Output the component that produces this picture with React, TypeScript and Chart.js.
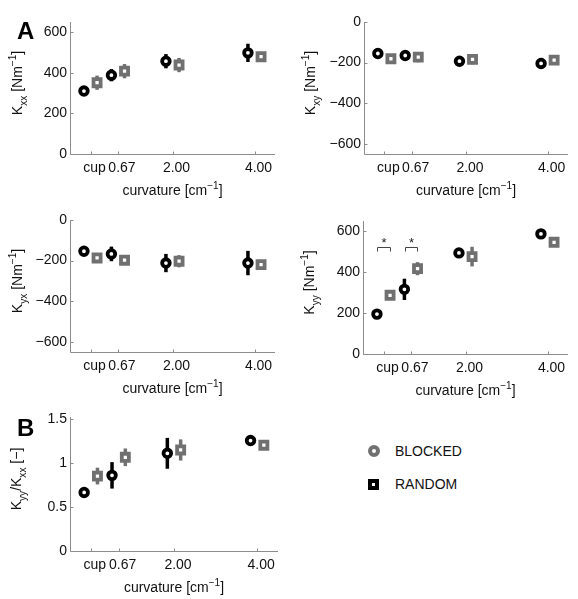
import React, { useEffect, useRef } from 'react';
import { Chart, registerables } from 'chart.js';

Chart.register(...registerables);

// ---------- data ----------
const tickLabels = ['cup', '0.67', '2.00', '4.00'];
const curvature = [0, 0.67, 2, 4];
const groupOffset = 0.16;

const kxxBlack = [310, 388, 457, 498];
const kxxBlackErr = [12, 30, 35, 45];
const kxxGrey = [351, 408, 438, 479];
const kxxGreyErr = [35, 35, 35, 15];

const kxyBlack = [-155, -165, -193, -204];
const kxyBlackErr = [10, 15, 12, 27];
const kxyGrey = [-181, -173, -184, -188];
const kxyGreyErr = [12, 25, 25, 12];

const kyxBlack = [-154, -167, -212, -212];
const kyxBlackErr = [12, 36, 45, 60];
const kyxGrey = [-187, -198, -203, -220];
const kyxGreyErr = [10, 12, 30, 12];

const kyyBlack = [195, 316, 494, 587];
const kyyBlackErr = [10, 52, 10, 10];
const kyyGrey = [287, 417, 476, 546];
const kyyGreyErr = [12, 32, 48, 12];

const ratioBlack = [0.664, 0.858, 1.108, 1.253];
const ratioBlackErr = [0.02, 0.15, 0.175, 0.02];
const ratioGrey = [0.85, 1.063, 1.146, 1.2];
const ratioGreyErr = [0.095, 0.1, 0.12, 0.03];

const stiffTicksPos = [0, 200, 400, 600];
const stiffTicksNeg = [-600, -400, -200, 0];
const ratioTicks = [0, 0.5, 1, 1.5];

const sigCurvatures = [0, 0.67];
const sigLevel = 522;
const sigMark = '*';

const legendLabels = ['BLOCKED', 'RANDOM'];
const panelLetters = ['A', 'B'];

// ---------- styles ----------
const FONT = "'Liberation Sans', Arial, Helvetica, sans-serif";
const TEXT = '#111';
const AXIS = '#8c8c8c';
const BLACK = '#000';
const GREY = '#707070';
const FS = 14;

type Seg = { t: string; s?: 'sub' | 'sup' };

const xTitle: Seg[] = [{ t: 'curvature [cm' }, { t: '\u22121', s: 'sup' }, { t: ']' }];
const stiffTitle = (sub: string): Seg[] => [
  { t: 'K' }, { t: sub, s: 'sub' }, { t: ' [Nm' }, { t: '\u22121', s: 'sup' }, { t: ']' },
];
const ratioTitle: Seg[] = [
  { t: 'K' }, { t: 'yy', s: 'sub' }, { t: '/K' }, { t: 'xx', s: 'sub' }, { t: ' [\u2212]' },
];

function drawRich(ctx: CanvasRenderingContext2D, segs: Seg[], cx: number, cy: number, size: number, rot: number) {
  ctx.save();
  ctx.translate(cx, cy);
  if (rot) ctx.rotate(rot);
  const small = size * 0.72;
  const widths = segs.map((g) => {
    ctx.font = `${g.s ? small : size}px ${FONT}`;
    return ctx.measureText(g.t).width;
  });
  const total = widths.reduce((a, b) => a + b, 0);
  let x = -total / 2;
  ctx.textBaseline = 'alphabetic';
  ctx.textAlign = 'left';
  ctx.fillStyle = TEXT;
  const base = size * 0.36;
  segs.forEach((g, i) => {
    ctx.font = `${g.s ? small : size}px ${FONT}`;
    const dy = g.s === 'sub' ? size * 0.32 : g.s === 'sup' ? -size * 0.45 : 0;
    ctx.fillText(g.t, x, base + dy);
    x += widths[i];
  });
  ctx.restore();
}

const fmt = (v: number) => (v < 0 ? '\u2212' + String(Math.abs(v)) : String(v));

const decorPlugin = {
  id: 'decor',
  beforeDatasetsDraw(chart: any, _a: any, opts: any) {
    const ctx = chart.ctx as CanvasRenderingContext2D;
    const xs = chart.scales.x;
    const ys = chart.scales.y;
    ctx.save();
    ctx.lineCap = 'butt';
    (opts.errors || []).forEach((errs: number[], di: number) => {
      const ds = chart.data.datasets[di];
      ctx.strokeStyle = ds.pointBorderColor;
      ctx.lineWidth = 3.5;
      ds.data.forEach((pt: any, i: number) => {
        const e = errs[i];
        const px = xs.getPixelForValue(pt.x);
        ctx.beginPath();
        ctx.moveTo(px, ys.getPixelForValue(pt.y - e));
        ctx.lineTo(px, ys.getPixelForValue(pt.y + e));
        ctx.stroke();
      });
    });
    ctx.restore();
  },
  afterDraw(chart: any, _a: any, opts: any) {
    const ctx = chart.ctx as CanvasRenderingContext2D;
    const { left, right, top, bottom } = chart.chartArea;
    const xs = chart.scales.x;
    const ys = chart.scales.y;
    ctx.save();
    ctx.strokeStyle = AXIS;
    ctx.lineWidth = 1;
    const L = Math.round(left) + 0.5;
    const B = Math.round(bottom) + 0.5;
    ctx.beginPath();
    ctx.moveTo(L, Math.round(top));
    ctx.lineTo(L, B);
    ctx.lineTo(Math.round(right), B);
    ctx.stroke();
    ctx.beginPath();
    xs.ticks.forEach((t: any) => {
      const px = Math.round(xs.getPixelForValue(t.value)) + 0.5;
      ctx.moveTo(px, B);
      ctx.lineTo(px, B - 3);
    });
    ys.ticks.forEach((t: any) => {
      const py = Math.round(ys.getPixelForValue(t.value)) + 0.5;
      ctx.moveTo(L, py);
      ctx.lineTo(L + 3, py);
    });
    ctx.stroke();

    drawRich(ctx, xTitle, (left + right) / 2, bottom + 36, FS, 0);
    drawRich(ctx, opts.yTitle, opts.titleX, (top + bottom) / 2 - 5, FS, -Math.PI / 2);

    if (opts.sig) {
      ctx.strokeStyle = '#444';
      ctx.fillStyle = '#222';
      ctx.lineWidth = 1;
      ctx.font = `13px ${FONT}`;
      ctx.textAlign = 'center';
      ctx.textBaseline = 'middle';
      sigCurvatures.forEach((c) => {
        const x1 = Math.round(xs.getPixelForValue(c - groupOffset * 0.95)) + 0.5;
        const x2 = Math.round(xs.getPixelForValue(c + groupOffset * 0.95)) + 0.5;
        const y = Math.round(ys.getPixelForValue(sigLevel)) + 0.5;
        ctx.beginPath();
        ctx.moveTo(x1, y + 4);
        ctx.lineTo(x1, y);
        ctx.lineTo(x2, y);
        ctx.lineTo(x2, y + 4);
        ctx.stroke();
        ctx.fillText(sigMark, (x1 + x2) / 2, y - 4);
      });
    }
    ctx.restore();
  },
};

type PanelCfg = {
  left: number; top: number; width: number; height: number;
  area: [number, number, number, number];
  yMin: number; yMax: number; yTicks: number[];
  yFmt: (v: number) => string;
  black: number[]; blackErr: number[]; grey: number[]; greyErr: number[];
  yTitle: Seg[]; titleX: number; sig?: boolean;
};

const panels: PanelCfg[] = [
  { left: 0, top: 0, width: 290, height: 200, area: [70, 22, 275, 154], yMin: 0, yMax: 650, yTicks: stiffTicksPos, yFmt: fmt,
    black: kxxBlack, blackErr: kxxBlackErr, grey: kxxGrey, greyErr: kxxGreyErr, yTitle: stiffTitle('xx'), titleX: 17 },
  { left: 290, top: 0, width: 288, height: 200, area: [74, 22, 278, 154], yMin: -650, yMax: 0, yTicks: stiffTicksNeg, yFmt: fmt,
    black: kxyBlack, blackErr: kxyBlackErr, grey: kxyGrey, greyErr: kxyGreyErr, yTitle: stiffTitle('xy'), titleX: 20 },
  { left: 0, top: 200, width: 290, height: 200, area: [70, 20, 275, 152], yMin: -650, yMax: 0, yTicks: stiffTicksNeg, yFmt: fmt,
    black: kyxBlack, blackErr: kyxBlackErr, grey: kyxGrey, greyErr: kyxGreyErr, yTitle: stiffTitle('yx'), titleX: 17 },
  { left: 290, top: 200, width: 288, height: 200, area: [73, 21, 278, 154], yMin: 0, yMax: 650, yTicks: stiffTicksPos, yFmt: fmt,
    black: kyyBlack, blackErr: kyyBlackErr, grey: kyyGrey, greyErr: kyyGreyErr, yTitle: stiffTitle('yy'), titleX: 19, sig: true },
  { left: 0, top: 400, width: 290, height: 199, area: [70, 17, 278, 151], yMin: 0, yMax: 1.52, yTicks: ratioTicks, yFmt: (v) => String(v),
    black: ratioBlack, blackErr: ratioBlackErr, grey: ratioGrey, greyErr: ratioGreyErr, yTitle: ratioTitle, titleX: 16 },
];

function makeChart(canvas: HTMLCanvasElement, p: PanelCfg) {
  const [al, at, ar, ab] = p.area;
  return new Chart(canvas, {
    type: 'scatter',
    data: {
      datasets: [
        {
          label: 'black',
          data: curvature.map((c, i) => ({ x: c - groupOffset, y: p.black[i] })),
          pointStyle: 'circle',
          pointRadius: 3.8,
          pointBorderWidth: 3.8,
          pointBorderColor: BLACK,
          pointBackgroundColor: '#fff',
          showLine: false,
        } as any,
        {
          label: 'grey',
          data: curvature.map((c, i) => ({ x: c + groupOffset, y: p.grey[i] })),
          pointStyle: 'rect',
          pointRadius: 5,
          pointBorderWidth: 3.8,
          pointBorderColor: GREY,
          pointBackgroundColor: '#fff',
          showLine: false,
        } as any,
      ],
    },
    options: {
      responsive: false,
      animation: false,
      devicePixelRatio: 1,
      events: [],
      layout: { autoPadding: false, padding: { left: 0, top: at, right: p.width - ar, bottom: 0 } } as any,
      plugins: {
        legend: { display: false },
        tooltip: { enabled: false },
        decor: { errors: [p.blackErr, p.greyErr], yTitle: p.yTitle, titleX: p.titleX, sig: !!p.sig },
      } as any,
      scales: {
        x: {
          type: 'linear',
          min: -0.5,
          max: 4.5,
          grid: { display: false, drawTicks: false },
          border: { display: false },
          afterBuildTicks: (s: any) => { s.ticks = curvature.map((v) => ({ value: v })); },
          afterFit: (s: any) => { s.height = p.height - ab; },
          ticks: {
            autoSkip: false,
            maxRotation: 0,
            padding: 6,
            labelOffset: 4,
            color: TEXT,
            font: { family: FONT, size: FS },
            callback: (_v: any, i: number) => tickLabels[i],
          },
        },
        y: {
          type: 'linear',
          min: p.yMin,
          max: p.yMax,
          grid: { display: false, drawTicks: false },
          border: { display: false },
          afterBuildTicks: (s: any) => { s.ticks = p.yTicks.map((v) => ({ value: v })); },
          afterFit: (s: any) => { s.width = al; },
          ticks: {
            padding: 3,
            color: TEXT,
            font: { family: FONT, size: FS },
            callback: (v: any) => p.yFmt(Number(v)),
          },
        },
      },
    } as any,
    plugins: [decorPlugin as any],
  });
}

export default function App() {
  const refs = useRef<(HTMLCanvasElement | null)[]>([]);
  useEffect(() => {
    const charts = panels.map((p, i) => makeChart(refs.current[i] as HTMLCanvasElement, p));
    return () => charts.forEach((c) => c.destroy());
  }, []);

  const letterStyle: React.CSSProperties = {
    position: 'absolute', fontFamily: FONT, fontWeight: 'bold', fontSize: 24, lineHeight: '24px', color: '#000',
  };
  const legendText: React.CSSProperties = {
    position: 'absolute', left: 395, fontFamily: FONT, fontSize: 14, lineHeight: '14px', color: TEXT, whiteSpace: 'nowrap',
  };

  return (
    <div style={{ position: 'absolute', left: 0, top: 0, width: 578, height: 599, background: '#fff', overflow: 'hidden' }}>
      {panels.map((p, i) => (
        <canvas
          key={i}
          ref={(el) => { refs.current[i] = el; }}
          width={p.width}
          height={p.height}
          style={{ position: 'absolute', left: p.left, top: p.top, width: p.width, height: p.height }}
        />
      ))}
      <div style={{ ...letterStyle, left: 17, top: 19 }}>{panelLetters[0]}</div>
      <div style={{ ...letterStyle, left: 17, top: 416 }}>{panelLetters[1]}</div>

      <div style={{ position: 'absolute', left: 368, top: 445, width: 12, height: 12, borderRadius: '50%', border: `4px solid ${GREY}`, boxSizing: 'border-box', background: '#fff' }} />
      <div style={{ ...legendText, top: 444 }}>{legendLabels[0]}</div>
      <div style={{ position: 'absolute', left: 368, top: 479, width: 11, height: 11, border: `4px solid ${BLACK}`, boxSizing: 'border-box', background: '#fff' }} />
      <div style={{ ...legendText, top: 477 }}>{legendLabels[1]}</div>
    </div>
  );
}
